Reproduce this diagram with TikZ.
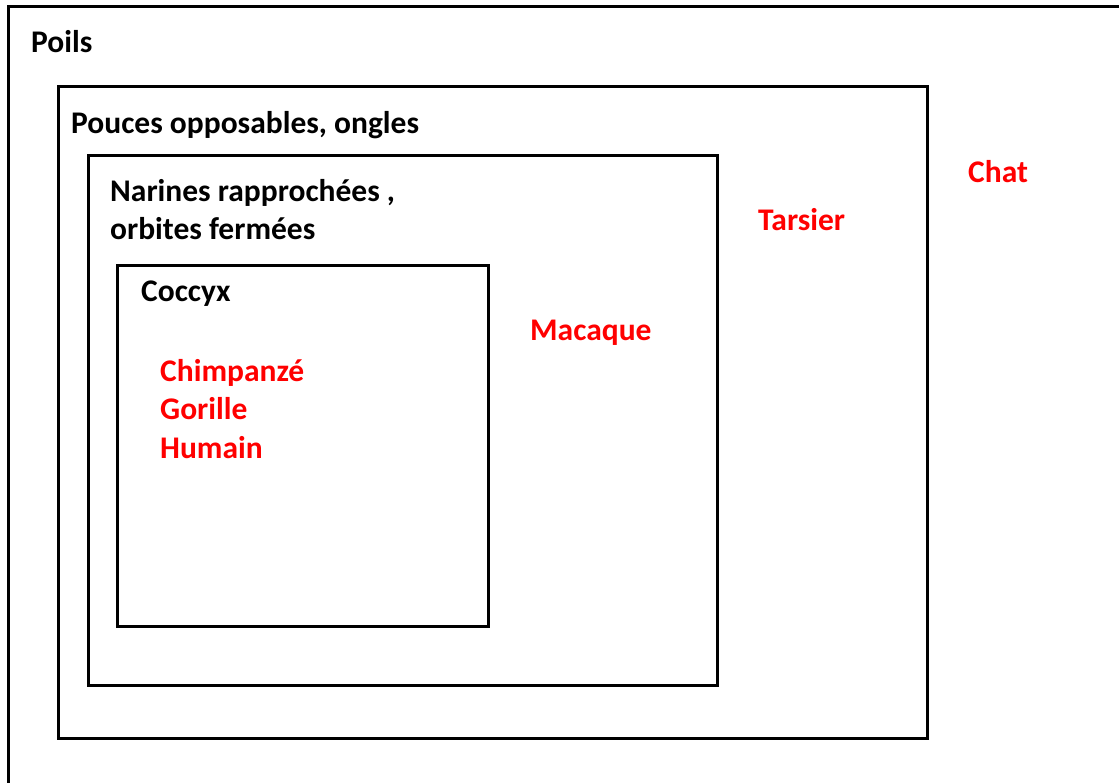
\documentclass[tikz,border=0pt]{standalone}
\usepackage{fontspec}
\setmainfont{Carlito}
\usetikzlibrary{backgrounds}
\pgfdeclarelayer{edgelayer}
\pgfdeclarelayer{nodelayer}
\pgfsetlayers{edgelayer,nodelayer,main}
\tikzset{font=\fontsize{31.5}{38}\selectfont\bfseries}
\tikzstyle{none}=[inner sep=0pt]
\tikzstyle{trait}=[inner sep=0pt,anchor=base west,text=black]
\tikzstyle{espece}=[inner sep=0pt,anchor=base west,text=red]
\tikzstyle{boite}=[line width=3pt,line join=miter]

\begin{document}
\begin{tikzpicture}[x=1pt,y=-1pt]
	\clip (0,0) rectangle (1119,783);
	\begin{pgfonlayer}{nodelayer}
		\node [style=none] (0) at (8, 7) {};
		\node [style=none] (1) at (1135, 800) {};
		\node [style=none] (2) at (58, 87) {};
		\node [style=none] (3) at (927, 738) {};
		\node [style=none] (4) at (88, 156) {};
		\node [style=none] (5) at (717, 685) {};
		\node [style=none] (6) at (117, 266) {};
		\node [style=none] (7) at (488, 626) {};
		\node [style=trait] (8) at (31, 53) {Poils};
		\node [style=trait] (9) at (71, 134) {Pouces opposables, ongles};
		\node [style=trait] (10) at (110, 202) {Narines rapproch\'ees ,};
		\node [style=trait] (11) at (110, 240) {orbites ferm\'ees};
		\node [style=trait] (12) at (141, 302) {Coccyx};
		\node [style=espece] (13) at (160, 382) {Chimpanz\'e};
		\node [style=espece] (14) at (160, 420) {Gorille};
		\node [style=espece] (15) at (160, 458) {Humain};
		\node [style=espece] (16) at (530, 341) {Macaque};
		\node [style=espece] (17) at (758, 231) {Tarsier};
		\node [style=espece] (18) at (968, 183) {Chat};
	\end{pgfonlayer}
	\begin{pgfonlayer}{edgelayer}
		\draw [style=boite] (0.center) rectangle (1.center);
		\draw [style=boite] (2.center) rectangle (3.center);
		\draw [style=boite] (4.center) rectangle (5.center);
		\draw [style=boite] (6.center) rectangle (7.center);
	\end{pgfonlayer}
\end{tikzpicture}
\end{document}
